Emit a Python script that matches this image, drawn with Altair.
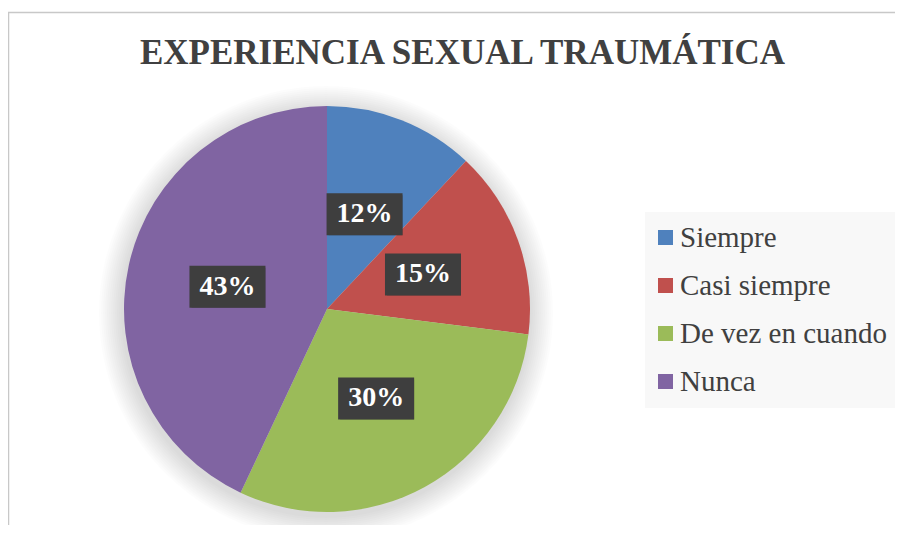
import altair as alt
import pandas as pd

# ---- data ----
categories = ["Siempre", "Casi siempre", "De vez en cuando", "Nunca"]
values = [12, 15, 30, 43]
labels = ["12%", "15%", "30%", "43%"]
colors = ["#4F81BD", "#C0504D", "#9BBB59", "#8064A2"]
TITLE = "EXPERIENCIA SEXUAL TRAUMÁTICA"

df = pd.DataFrame({"cat": categories, "value": values, "label": labels,
                   "idx": list(range(len(categories)))})

# ---- layout (chart pixel coordinates) ----
W, H = 887, 517
CX, CY = 319, 301
R = 203
LR = 102
BW, BH = 38, 21
SERIF = "Liberation Serif"
FRAME = "#C8C8C8"

base = alt.Chart(df)

xs = alt.Scale(domain=[0, W], nice=False, zero=False)
ys = alt.Scale(domain=[H, 0], nice=False, zero=False)

# chart frame (only its top and left edges fall inside the picture)
frame = alt.Chart(alt.Data(values=[{}])).mark_rect(
    fill="transparent", stroke=FRAME, strokeWidth=1.5
).encode(x=alt.value(0.5), x2=alt.value(W + 30), y=alt.value(4.5), y2=alt.value(H + 30))

# soft shadow under the pie
shadows = []
for k in range(1, 13):
    shadows.append(
        alt.Chart(alt.Data(values=[{}])).mark_arc(
            outerRadius=R + 2 * k, theta=0, theta2=6.2832, color="black", opacity=0.011
        ).encode(x=alt.value(CX - 1), y=alt.value(CY + 4))
    )

pie = base.mark_arc(outerRadius=R).encode(
    theta=alt.Theta("value:Q", stack=True),
    order=alt.Order("idx:Q"),
    color=alt.Color(
        "cat:N",
        scale=alt.Scale(domain=categories, range=colors),
        legend=alt.Legend(
            orient="none", legendX=637, legendY=204, title=None,
            fillColor="#F8F8F8", padding=11,
            symbolType="square", symbolSize=225, symbolStrokeWidth=0,
            symbolOffset=-5,
            labelFont=SERIF, labelFontSize=29, labelColor="#404040",
            labelOffset=0, rowPadding=18, labelLimit=400,
        ),
    ),
    x=alt.value(CX), y=alt.value(CY),
)

pos = base.transform_window(
    cum="sum(value)", sort=[alt.SortField("idx")], frame=[None, 0]
).transform_joinaggregate(total="sum(value)").transform_calculate(
    ang="(datum.cum - datum.value/2) / datum.total * 2 * PI",
    bx=f"{CX} + {LR} * sin(datum.ang)",
    by=f"{CY} - {LR} * cos(datum.ang)",
).transform_calculate(
    x1=f"datum.bx - {BW}", x2=f"datum.bx + {BW}",
    y1=f"datum.by - {BH}", y2=f"datum.by + {BH}",
)

box_shadow = pos.mark_rect(color="black", opacity=0.3, xOffset=2, yOffset=2).encode(
    x=alt.X("x1:Q", scale=xs, axis=None), x2="x2:Q",
    y=alt.Y("y1:Q", scale=ys, axis=None), y2="y2:Q")
boxes = pos.mark_rect(color="#3E3E3E").encode(
    x=alt.X("x1:Q", scale=xs, axis=None), x2="x2:Q",
    y=alt.Y("y1:Q", scale=ys, axis=None), y2="y2:Q")
texts = pos.mark_text(color="white", font=SERIF, fontWeight="bold",
                      fontSize=28, align="center", baseline="middle").encode(
    x=alt.X("bx:Q", scale=xs, axis=None),
    y=alt.Y("by:Q", scale=ys, axis=None),
    text="label:N")

title = alt.Chart(alt.Data(values=[{}])).mark_text(
    font=SERIF, fontWeight="bold", fontSize=35, color="#404040",
    align="center", baseline="alphabetic"
).encode(x=alt.value(454.5), y=alt.value(56), text=alt.value(TITLE))

chart = alt.layer(
    frame, *shadows, pie, box_shadow, boxes, texts, title
).properties(
    width=W, height=H,
    autosize=alt.AutoSizeParams(type="none"),
    padding=0,
    background="white",
).configure_view(stroke="transparent", strokeWidth=0)

chart.save("out.html", embed_options={"renderer": "svg", "actions": False})
